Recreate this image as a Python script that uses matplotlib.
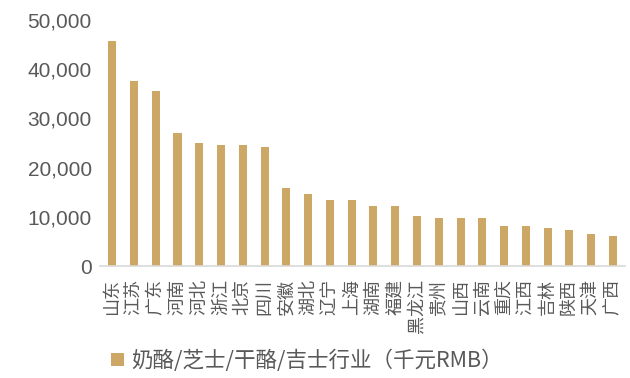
import matplotlib
matplotlib.use("Agg")
import matplotlib.pyplot as plt
from matplotlib.ticker import FuncFormatter

plt.rcParams['font.family'] = ['Noto Sans CJK SC', 'DejaVu Sans']

# --- data ---
provinces = ["山东", "江苏", "广东", "河南", "河北", "浙江", "北京", "四川",
             "安徽", "湖北", "辽宁", "上海", "湖南", "福建", "黑龙江", "贵州",
             "山西", "云南", "重庆", "江西", "吉林", "陕西", "天津", "广西"]
values = [45800, 37700, 35600, 27100, 25100, 24700, 24700, 24300,
          15800, 14600, 13400, 13400, 12150, 12150, 10100, 9700,
          9700, 9700, 8100, 8100, 7700, 7300, 6500, 6100]
series_name = "奶酪/芝士/干酪/吉士行业（千元RMB）"
yticks = [0, 10000, 20000, 30000, 40000, 50000]

BAR = "#CDA766"
GREY = "#595959"

fig = plt.figure(figsize=(6.3, 3.78), dpi=100)
ax = fig.add_axes([0.159, 0.296, 0.833, 0.651])

x = range(len(provinces))
ax.bar(x, values, width=0.37, color=BAR, label=series_name)

ax.set_ylim(0, 50000)
ax.set_xlim(-0.55, len(provinces) - 0.45)
ax.set_yticks(yticks)
ax.yaxis.set_major_formatter(FuncFormatter(lambda v, p: f"{int(v):,}"))
for t in ax.get_yticklabels():
    t.set_fontfamily("Liberation Sans")
ax.tick_params(axis="y", length=0, labelsize=15, labelcolor=GREY, pad=6)

ax.set_xticks(list(x))
ax.set_xticklabels(provinces, rotation=90, fontsize=13, color=GREY, fontweight="light")
ax.tick_params(axis="x", length=0, pad=9)

for s in ["top", "right", "left"]:
    ax.spines[s].set_visible(False)
ax.spines["bottom"].set_color("#D9D9D9")
ax.spines["bottom"].set_linewidth(1.2)

leg = fig.legend(loc="center left", bbox_to_anchor=(0.176, 0.045), frameon=False,
                 prop={"size": 15.5, "weight": "light"},
                 handlelength=0.6, handleheight=0.6, handletextpad=0.35,
                 borderpad=0, borderaxespad=0)
for t in leg.get_texts():
    t.set_color(GREY)

fig.savefig("out.png", dpi=100)
